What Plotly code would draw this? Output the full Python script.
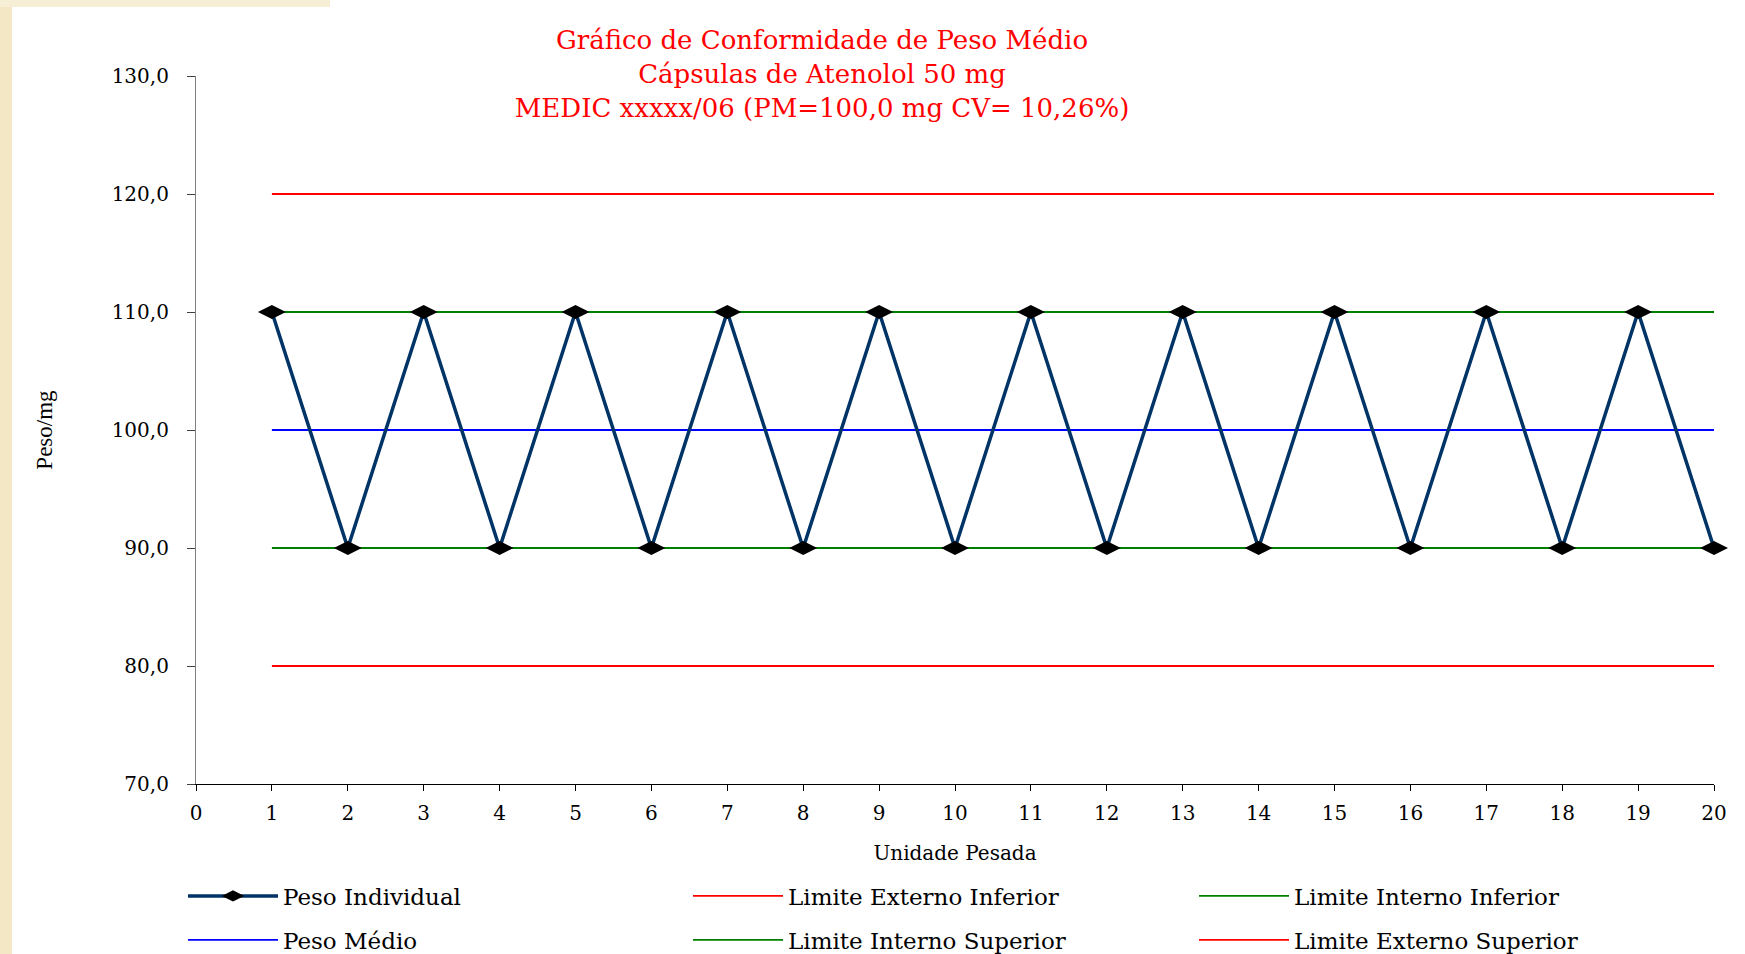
import plotly.graph_objects as go

# ---------------- data ----------------
unidades = [1, 2, 3, 4, 5, 6, 7, 8, 9, 10, 11, 12, 13, 14, 15, 16, 17, 18, 19, 20]
peso_individual = [110.0, 90.0, 110.0, 90.0, 110.0, 90.0, 110.0, 90.0, 110.0, 90.0,
                   110.0, 90.0, 110.0, 90.0, 110.0, 90.0, 110.0, 90.0, 110.0, 90.0]
peso_medio = [100.0, 100.0, 100.0, 100.0, 100.0, 100.0, 100.0, 100.0, 100.0, 100.0,
              100.0, 100.0, 100.0, 100.0, 100.0, 100.0, 100.0, 100.0, 100.0, 100.0]
lim_ext_inf = [80.0, 80.0, 80.0, 80.0, 80.0, 80.0, 80.0, 80.0, 80.0, 80.0,
               80.0, 80.0, 80.0, 80.0, 80.0, 80.0, 80.0, 80.0, 80.0, 80.0]
lim_int_inf = [90.0, 90.0, 90.0, 90.0, 90.0, 90.0, 90.0, 90.0, 90.0, 90.0,
               90.0, 90.0, 90.0, 90.0, 90.0, 90.0, 90.0, 90.0, 90.0, 90.0]
lim_int_sup = [110.0, 110.0, 110.0, 110.0, 110.0, 110.0, 110.0, 110.0, 110.0, 110.0,
               110.0, 110.0, 110.0, 110.0, 110.0, 110.0, 110.0, 110.0, 110.0, 110.0]
lim_ext_sup = [120.0, 120.0, 120.0, 120.0, 120.0, 120.0, 120.0, 120.0, 120.0, 120.0,
               120.0, 120.0, 120.0, 120.0, 120.0, 120.0, 120.0, 120.0, 120.0, 120.0]
y_ticks = [70, 80, 90, 100, 110, 120, 130]
x_ticks = [0, 1, 2, 3, 4, 5, 6, 7, 8, 9, 10, 11, 12, 13, 14, 15, 16, 17, 18, 19, 20]

title_lines = ["Gráfico de Conformidade de Peso Médio",
               "Cápsulas de Atenolol 50 mg",
               "MEDIC xxxxx/06 (PM=100,0 mg CV= 10,26%)"]

# ---------------- style ----------------
W, H = 1745, 954
ML, MR, MT, MB = 196, 31, 76, 170
SERIF = "DejaVu Serif"
TIMES = "Liberation Serif"

# legend cells: column x px, row centre y px
COL_X = [183, 688, 1194]
ROW_Y = [896, 940]

fig = go.Figure()

def limit_trace(name, y, color, legend):
    return go.Scatter(x=unidades, y=y, name=name, mode="lines",
                      line=dict(color=color, width=1.8),
                      legend=legend, hoverinfo="skip")

fig.add_trace(limit_trace("Limite Externo Inferior", lim_ext_inf, "#FF0000", "legend2"))
fig.add_trace(limit_trace("Limite Interno Inferior", lim_int_inf, "#008000", "legend3"))
fig.add_trace(limit_trace("Peso Médio", peso_medio, "#0000FF", "legend4"))
fig.add_trace(limit_trace("Limite Interno Superior", lim_int_sup, "#008000", "legend5"))
fig.add_trace(limit_trace("Limite Externo Superior", lim_ext_sup, "#FF0000", "legend6"))
fig.add_trace(go.Scatter(
    x=unidades, y=peso_individual, name="Peso Individual", mode="lines+markers",
    line=dict(color="#003366", width=3.5),
    marker=dict(symbol="diamond-wide", size=20, color="#000000",
                line=dict(width=0)),
    cliponaxis=False, legend="legend"))

def leg(col, row):
    return dict(orientation="h", xref="container", yref="container",
                x=COL_X[col] / W, y=1 - ROW_Y[row] / H,
                xanchor="left", yanchor="middle", itemwidth=90,
                font=dict(family=SERIF, size=23, color="#000000"),
                bgcolor="rgba(0,0,0,0)", borderwidth=0,
                itemclick=False, itemdoubleclick=False)

pw = W - ML - MR
ph = H - MT - MB

fig.update_layout(
    width=W, height=H,
    margin=dict(l=ML, r=MR, t=MT, b=MB),
    paper_bgcolor="#FFFFFF", plot_bgcolor="#FFFFFF",
    separators=",.",
    showlegend=True,
    title=dict(text="<br>".join(title_lines), xref="container", yref="container",
               x=822 / W, xanchor="center", y=1 - 49 / H, yanchor="top",
               font=dict(family=SERIF, size=26, color="#FF0000")),
    xaxis=dict(range=[0, 20], tickvals=x_ticks, showgrid=False, zeroline=False,
               showline=True, linecolor="#000000", linewidth=1,
               ticks="outside", ticklen=6, tickcolor="#000000",
               ticklabelstandoff=5,
               tickfont=dict(family=SERIF, size=20, color="#000000"),
               title=dict(text="Unidade Pesada", standoff=21,
                          font=dict(family=SERIF, size=20, color="#000000"))),
    yaxis=dict(range=[70, 130], tickvals=y_ticks, tickformat=".1f",
               showgrid=False, zeroline=False,
               showline=True, linecolor="#808080", linewidth=1.2,
               ticks="outside", ticklen=8, tickcolor="#404040",
               ticklabelstandoff=14,
               tickfont=dict(family=SERIF, size=20, color="#000000"),
               title=dict(text="Peso/mg", standoff=52,
                          font=dict(family=TIMES, size=23, color="#000000"))),
    legend=leg(0, 0),
    legend2=leg(1, 0),
    legend3=leg(2, 0),
    legend4=leg(0, 1),
    legend5=leg(1, 1),
    legend6=leg(2, 1),
    shapes=[
        dict(type="rect", xref="paper", yref="paper",
             x0=-ML / pw, x1=(12 - ML) / pw, y0=-MB / ph, y1=1 + MT / ph,
             fillcolor="#F3E7C6", line=dict(width=0), layer="below"),
        dict(type="rect", xref="paper", yref="paper",
             x0=-ML / pw, x1=(330 - ML) / pw, y0=1 + (MT - 7) / ph, y1=1 + MT / ph,
             fillcolor="#F7EED6", line=dict(width=0), layer="below"),
    ],
)

fig.write_html("out.html",
               config={"displayModeBar": False},
               post_script="document.body.style.margin='0';document.body.style.padding='0';")
